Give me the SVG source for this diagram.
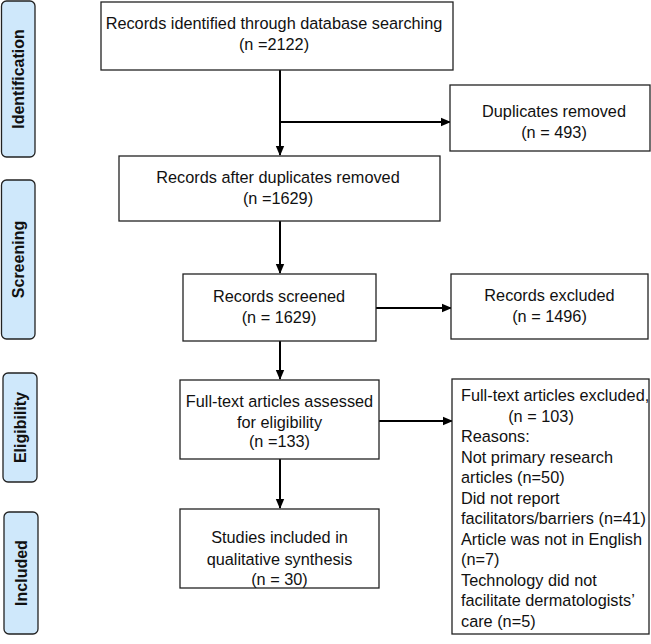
<svg xmlns="http://www.w3.org/2000/svg" width="651" height="644" viewBox="0 0 651 644">
<defs>
<marker id="ah" markerWidth="10" markerHeight="10" refX="9" refY="5" orient="auto" markerUnits="userSpaceOnUse">
<path d="M0,0.8 L10,5 L0,9.2 z" fill="#000"/>
</marker>
<style>
.box{fill:#fff;stroke:#222;stroke-width:1.3}
.side{fill:#cfe8fb;stroke:#222;stroke-width:1.3}
.t{font-family:"Liberation Sans",Arial,sans-serif;font-size:16.3px;fill:#111}
.c{text-anchor:middle}
.s{font-family:"Liberation Sans",Arial,sans-serif;font-size:16px;font-weight:bold;fill:#111;text-anchor:middle}
.ln{stroke:#000;stroke-width:2;fill:none}
</style>
</defs>
<rect width="651" height="644" fill="#fff"/>
<g id="phase-identification"><rect class="side" x="1.5" y="1" width="33.5" height="156" rx="5"/><text class="s" transform="translate(24,79) rotate(-90)">Identification</text></g>
<g id="phase-screening"><rect class="side" x="1.5" y="180" width="33.5" height="159" rx="5"/><text class="s" transform="translate(24,259.5) rotate(-90)">Screening</text></g>
<g id="phase-eligibility"><rect class="side" x="3" y="373" width="34" height="109" rx="5"/><text class="s" transform="translate(25.5,427.5) rotate(-90)">Eligibility</text></g>
<g id="phase-included"><rect class="side" x="4" y="512" width="34" height="122" rx="5"/><text class="s" transform="translate(26.5,573) rotate(-90)">Included</text></g>

<g id="connectors">
<path class="ln" d="M280,70 V155" marker-end="url(#ah)"/>
<path class="ln" d="M280,122 H450" marker-end="url(#ah)"/>
<path class="ln" d="M280,221 V273" marker-end="url(#ah)"/>
<path class="ln" d="M376,308 H451" marker-end="url(#ah)"/>
<path class="ln" d="M280,341 V379" marker-end="url(#ah)"/>
<path class="ln" d="M379,421 H452" marker-end="url(#ah)"/>
<path class="ln" d="M280,459 V508" marker-end="url(#ah)"/>
</g>

<g id="n-identified"><rect class="box" x="101" y="2" width="352" height="68"/>
<text class="t c" x="274" y="28.5">Records identified through database searching</text>
<text class="t c" x="274" y="50">(n =2122)</text></g>

<g id="n-duplicates"><rect class="box" x="450" y="85" width="200" height="66"/>
<text class="t c" x="554" y="116.5">Duplicates removed</text>
<text class="t c" x="554" y="137.5">(n = 493)</text></g>

<g id="n-after-dup"><rect class="box" x="119" y="156" width="321" height="65"/>
<text class="t c" x="278" y="182.5">Records after duplicates removed</text>
<text class="t c" x="278" y="204">(n =1629)</text></g>

<g id="n-screened"><rect class="box" x="183" y="274" width="193" height="67"/>
<text class="t c" x="279" y="301.5">Records screened</text>
<text class="t c" x="279" y="322.5">(n = 1629)</text></g>

<g id="n-excluded"><rect class="box" x="451" y="274" width="197" height="65"/>
<text class="t c" x="549.5" y="301">Records excluded</text>
<text class="t c" x="549.5" y="321.5">(n = 1496)</text></g>

<g id="n-fulltext"><rect class="box" x="180" y="380" width="199" height="79"/>
<text class="t c" x="279.5" y="406.5">Full-text articles assessed</text>
<text class="t c" x="279.5" y="427.5">for eligibility</text>
<text class="t c" x="279.5" y="447">(n =133)</text></g>

<g id="n-ft-excluded"><rect class="box" x="452" y="379" width="197" height="255"/>
<text class="t" x="461" y="401">Full-text articles excluded,</text>
<text class="t c" x="541" y="421.5">(n = 103)</text>
<text class="t" x="461" y="442">Reasons:</text>
<text class="t" x="461" y="462.5">Not primary research</text>
<text class="t" x="461" y="483">articles (n=50)</text>
<text class="t" x="461" y="503.5">Did not report</text>
<text class="t" x="461" y="524">facilitators/barriers (n=41)</text>
<text class="t" x="461" y="544.5">Article was not in English</text>
<text class="t" x="461" y="565">(n=7)</text>
<text class="t" x="461" y="585.5">Technology did not</text>
<text class="t" x="461" y="606">facilitate dermatologists’</text>
<text class="t" x="461" y="626.5">care (n=5)</text></g>

<g id="n-included"><rect class="box" x="180" y="509" width="199" height="79"/>
<text class="t c" x="279.5" y="543">Studies included in</text>
<text class="t c" x="279.5" y="565">qualitative synthesis</text>
<text class="t c" x="279.5" y="584.5">(n = 30)</text></g>
</svg>
